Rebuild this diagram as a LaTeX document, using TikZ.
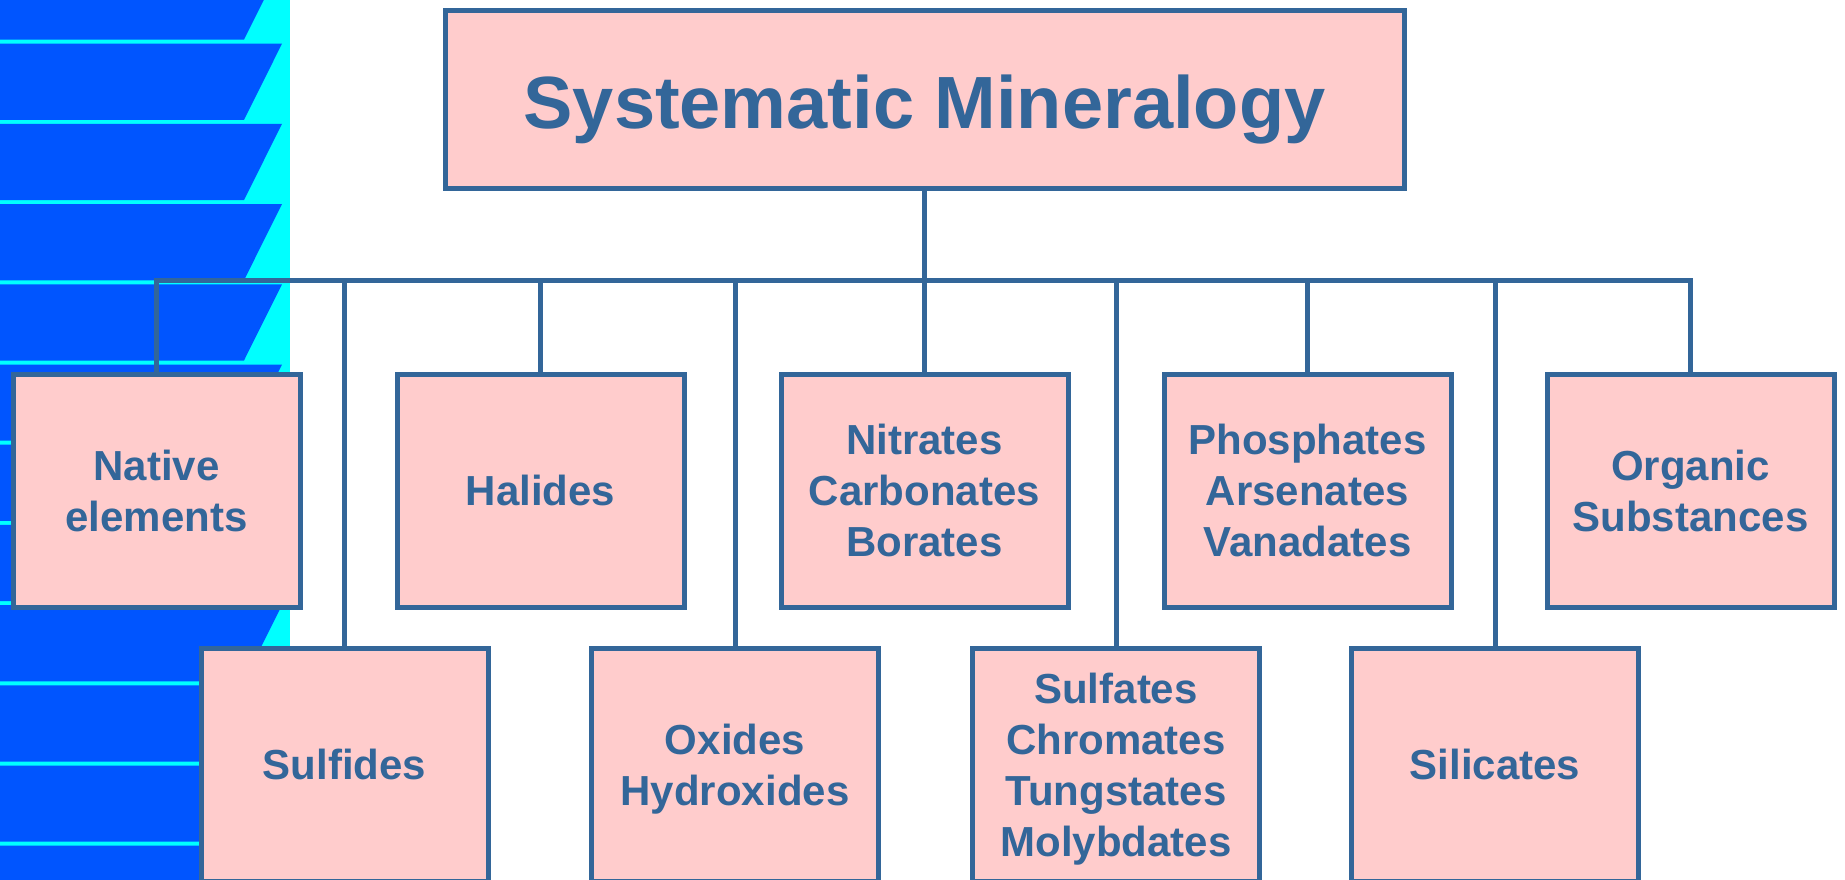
\documentclass[tikz,border=0pt]{standalone}
\usepackage{fontspec}
\setmainfont{Liberation Sans}
\definecolor{bluebg}{RGB}{0,85,255}
\definecolor{cyanbg}{RGB}{0,255,255}
\definecolor{steel}{RGB}{51,102,153}
\definecolor{pinkfill}{RGB}{255,204,204}
\tikzset{
  catbox/.style={draw=steel, fill=pinkfill, line width=5pt, minimum width=287pt,
    minimum height=233pt, inner sep=0pt, align=center, text=steel, text depth=0pt,
    font=\bfseries\fontsize{42}{51}\selectfont},
  titlebox/.style={draw=steel, fill=pinkfill, line width=5pt, minimum width=959pt,
    minimum height=177pt, inner sep=0pt, text=steel, text height=58pt, text depth=0pt,
    font=\bfseries\fontsize{74}{90}\selectfont},
  link/.style={draw=steel, line width=5pt, line join=miter}
}
\begin{document}
\begin{tikzpicture}[x=1pt,y=-1pt]
\useasboundingbox (0,0) rectangle (1845,880);
\clip (0,0) rectangle (1845,880);
\fill[white] (0,0) rectangle (1845,880);
% background stripes
\fill[cyanbg] (0,0) rectangle (290,880);
\foreach \k in {-1,...,10}{
  \pgfmathsetmacro\t{41.7+80.2*\k}
  \fill[bluebg] (0,\t+2) -- (282,\t+2) -- (244,\t+78.2) -- (0,\t+78.2) -- cycle;
}
% nodes
\node[titlebox] (title) at (924.5,99.5) {Systematic Mineralogy};
\coordinate (bus) at (924.5,280);
\node[catbox] (nat) at (156.5,490.5) {Native\\elements};
\node[catbox] (hal) at (540.5,490.5) {Halides};
\node[catbox] (nit) at (924.5,490.5) {Nitrates\\Carbonates\\Borates};
\node[catbox] (pho) at (1307.5,490.5) {Phosphates\\Arsenates\\Vanadates};
\node[catbox] (org) at (1690.5,490.5) {Organic\\Substances};
\node[catbox] (sul) at (344.5,764.5) {Sulfides};
\node[catbox] (oxi) at (735,764.5) {Oxides\\Hydroxides};
\node[catbox] (sfa) at (1116,764.5) {Sulfates\\Chromates\\Tungstates\\Molybdates};
\node[catbox] (sil) at (1495,764.5) {Silicates};
% connectors
\draw[link] (title.south) -- (bus);
\draw[link] (nat.north) |- (org.north |- bus) -- (org.north);
\foreach \n in {hal,nit,pho,sul,oxi,sfa,sil}{
  \draw[link] (\n.north |- bus) -- (\n.north);
}
\end{tikzpicture}
\end{document}
